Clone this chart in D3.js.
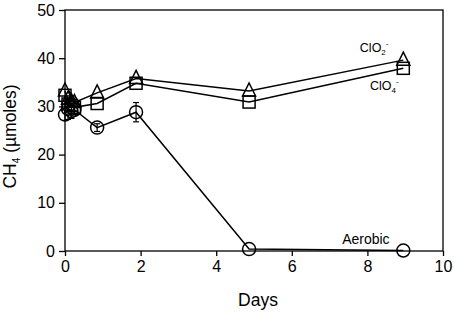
<!DOCTYPE html>
<html>
<head>
<meta charset="utf-8">
<script src="https://cdn.jsdelivr.net/npm/d3@7"></script>
<style>
  body { margin: 0; background: #fff; }
  svg { font-family: "Liberation Sans", Arial, sans-serif; }
</style>
</head>
<body>
<svg id="chart"></svg>
<script>
const width = 454, height = 312;
const margin = { top: 10, right: 11, bottom: 61, left: 65 };
const plotWidth = width - margin.left - margin.right;
const plotHeight = height - margin.top - margin.bottom;

// data
const chlorite_days = [0, 0.08, 0.17, 0.25, 0.85, 1.88, 4.87, 8.95];
const chlorite_vals = [33.2, 31.5, 31.0, 30.8, 32.8, 35.8, 33.2, 39.6];
const perchlorate_days = [0, 0.08, 0.17, 0.25, 0.85, 1.88, 4.87, 8.95];
const perchlorate_vals = [32.3, 30.5, 30.2, 29.8, 30.6, 34.8, 30.9, 37.9];
const aerobic_days = [0, 0.08, 0.17, 0.25, 0.85, 1.88, 4.87, 8.95];
const aerobic_vals = [28.3, 29.5, 29.0, 29.3, 25.6, 28.8, 0.4, 0.1];
const aerobic_err = [1.2, 2.2, 1.5, 1.0, 0.8, 2.0, 0.3, 0.2];
const xTicks = [0, 2, 4, 6, 8, 10];
const yTicks = [0, 10, 20, 30, 40, 50];

const svg = d3.select("#chart").attr("width", width).attr("height", height);
const g = svg.append("g").attr("transform", `translate(${margin.left},${margin.top})`);

const x = d3.scaleLinear().domain([0, 10]).range([0, plotWidth]);
const y = d3.scaleLinear().domain([0, 50]).range([plotHeight, 0]);

// frame
g.append("rect")
  .attr("width", plotWidth).attr("height", plotHeight)
  .attr("fill", "none").attr("stroke", "#000").attr("stroke-width", 1.3);

// axes
const xAxis = g.append("g")
  .attr("transform", `translate(0,${plotHeight})`)
  .call(d3.axisBottom(x).tickValues(xTicks).tickSize(5).tickPadding(5).tickFormat(d3.format("d")));
const yAxis = g.append("g")
  .call(d3.axisLeft(y).tickValues(yTicks).tickSize(6).tickPadding(4).tickFormat(d3.format("d")));
[xAxis, yAxis].forEach(a => {
  a.select(".domain").remove();
  a.selectAll("line").attr("stroke", "#000").attr("stroke-width", 1.3);
  a.selectAll("text").attr("font-size", 16).attr("fill", "#000")
    .attr("font-family", "Liberation Sans, Arial, sans-serif");
});

// axis titles
g.append("text")
  .attr("x", plotWidth / 2 + 4).attr("y", plotHeight + 55)
  .attr("text-anchor", "middle").attr("font-size", 17.5).text("Days");

const yl = g.append("text")
  .attr("transform", `translate(-49,${plotHeight / 2 + 6})rotate(-90)`)
  .attr("text-anchor", "middle").attr("font-size", 17.5);
yl.append("tspan").text("CH");
yl.append("tspan").attr("font-size", 10).attr("dy", 4).text("4");
yl.append("tspan").attr("dy", -4).text(" (\u00b5moles)");

const line = d3.line().x(d => x(d.day)).y(d => y(d.val));
function series(days, vals) { return days.map((d, i) => ({ day: d, val: vals[i] })); }

const sChlorite = series(chlorite_days, chlorite_vals);
const sPerchlorate = series(perchlorate_days, perchlorate_vals);
const sAerobic = aerobic_days.map((d, i) => ({ day: d, val: aerobic_vals[i], err: aerobic_err[i] }));

[sAerobic, sPerchlorate, sChlorite].forEach(s => {
  g.append("path").datum(s).attr("d", line)
    .attr("fill", "none").attr("stroke", "#000").attr("stroke-width", 1.5);
});

// error bars (aerobic)
const eb = g.append("g").attr("stroke", "#000").attr("stroke-width", 1.2);
sAerobic.filter(d => d.err > 0.5).forEach(d => {
  eb.append("line").attr("x1", x(d.day)).attr("x2", x(d.day))
    .attr("y1", y(d.val - d.err)).attr("y2", y(d.val + d.err));
  [d.val - d.err, d.val + d.err].forEach(v => {
    eb.append("line").attr("x1", x(d.day) - 3).attr("x2", x(d.day) + 3)
      .attr("y1", y(v)).attr("y2", y(v));
  });
});

// markers
const mk = { fill: "none", stroke: "#000", sw: 1.5 };
g.append("g").selectAll("circle").data(sAerobic).join("circle")
  .attr("cx", d => x(d.day)).attr("cy", d => y(d.val)).attr("r", 6.5)
  .attr("fill", mk.fill).attr("stroke", mk.stroke).attr("stroke-width", mk.sw);
g.append("g").selectAll("rect").data(sPerchlorate).join("rect")
  .attr("x", d => x(d.day) - 6).attr("y", d => y(d.val) - 6)
  .attr("width", 12).attr("height", 12)
  .attr("fill", mk.fill).attr("stroke", mk.stroke).attr("stroke-width", mk.sw);
g.append("g").selectAll("path").data(sChlorite).join("path")
  .attr("d", d => { const cx = x(d.day), cy = y(d.val);
    return `M${cx},${cy - 8}L${cx + 6.5},${cy + 5}L${cx - 6.5},${cy + 5}Z`; })
  .attr("fill", mk.fill).attr("stroke", mk.stroke).attr("stroke-width", mk.sw);

// series labels
function ionLabel(day, val, sub) {
  const t = g.append("text").attr("x", x(day)).attr("y", y(val)).attr("font-size", 12.5);
  t.append("tspan").text("ClO");
  t.append("tspan").attr("font-size", 8).attr("dy", 3).text(sub);
  t.append("tspan").attr("font-size", 8).attr("dy", -9).text("-");
}
ionLabel(7.8, 41.3, "2");
ionLabel(8.07, 33.3, "4");
g.append("text").attr("x", x(7.96)).attr("y", y(1.5)).attr("font-size", 14)
  .attr("text-anchor", "middle").text("Aerobic");
</script>
</body>
</html>
